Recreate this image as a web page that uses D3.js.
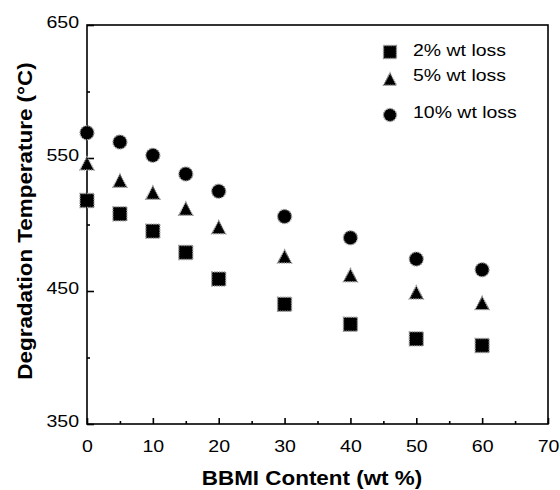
<!DOCTYPE html>
<html>
<head>
<meta charset="utf-8">
<script src="https://cdn.jsdelivr.net/npm/d3@7"></script>
<style>
  body { margin: 0; background: #fff; }
  text { font-family: "Liberation Sans", Arial, Helvetica, sans-serif; fill: #000; }
  .tick text { font-size: 17px; }
  .title { font-size: 19.5px; font-weight: bold; }
  .legend text { font-size: 16.5px; }
  .domain, .tick line { stroke: #000; stroke-width: 1.6; }
  .mark { fill: #000; stroke: #9a9a9a; stroke-width: 1.4; stroke-dasharray: 1.4,1; }
</style>
</head>
<body>
<script>
// BBMI content (wt %)
var content = [0, 5, 10, 15, 20, 30, 40, 50, 60];
// degradation temperatures (°C)
var loss2  = [518, 508, 495, 479, 459, 440, 425, 414, 409];
var loss5  = [546, 533, 524, 512, 498, 476, 462, 449, 441];
var loss10 = [569, 562, 552, 538, 525, 506, 490, 474, 466];

var seriesNames = ["2% wt loss", "5% wt loss", "10% wt loss"];
var seriesShapes = ["square", "triangle", "circle"];
var xTicks = [0, 10, 20, 30, 40, 50, 60, 70];
var yTicks = [350, 450, 550, 650];

var margin = {top: 25, right: 12, bottom: 66, left: 87},
    width = 560 - margin.left - margin.right,
    height = 490 - margin.top - margin.bottom;

var stretch = 1.15;

var x = d3.scaleLinear().domain([0, 70]).range([0, width]);
var y = d3.scaleLinear().domain([350, 650]).range([height, 0]);

var svg = d3.select("body").append("svg")
    .attr("width", 560)
    .attr("height", 490)
  .append("g")
    .attr("transform", "translate(" + margin.left + "," + margin.top + ")");

// box
svg.append("rect")
    .attr("width", width)
    .attr("height", height)
    .attr("fill", "none")
    .attr("stroke", "#000")
    .attr("stroke-width", 1.6);

// minor ticks (inward)
svg.append("g")
    .attr("transform", "translate(0," + height + ")")
    .call(d3.axisBottom(x).tickValues(d3.range(5, 70, 10)).tickSize(-3).tickFormat(""))
    .call(function(g) { g.select(".domain").remove(); });
svg.append("g")
    .call(d3.axisLeft(y).tickValues([400, 500, 600]).tickSize(-3).tickFormat(""))
    .call(function(g) { g.select(".domain").remove(); });

// X axis
svg.append("g")
    .attr("transform", "translate(0," + height + ")")
    .call(d3.axisBottom(x).tickValues(xTicks).tickSize(-6).tickFormat(d3.format("d")))
    .call(function(g) {
      g.select(".domain").remove();
      g.selectAll(".tick text")
        .attr("y", null).attr("dy", null)
        .attr("transform", "translate(0,28) scale(" + stretch + ",1)");
    });

// Y axis
svg.append("g")
    .call(d3.axisLeft(y).tickValues(yTicks).tickSize(-7).tickFormat(d3.format("d")))
    .call(function(g) {
      g.select(".domain").remove();
      g.selectAll(".tick text")
        .attr("x", null).attr("dy", null)
        .attr("transform", "translate(-8,2) scale(" + stretch + ",1)");
    });

// marker shapes
function markerPath(shape, s) {
  var h = s / 2;
  if (shape === "square") return "M" + (-h) + "," + (-h) + "H" + h + "V" + h + "H" + (-h) + "Z";
  if (shape === "triangle") return "M0," + (-h * 0.95) + "L" + h + "," + (h * 0.95) + "H" + (-h) + "Z";
  return d3.symbol(d3.symbolCircle, Math.PI * h * h)();
}

var allSeries = [loss2, loss5, loss10];
allSeries.forEach(function(vals, i) {
  svg.append("g").selectAll("path")
      .data(content)
    .enter().append("path")
      .attr("class", "mark")
      .attr("d", markerPath(seriesShapes[i], 14))
      .attr("transform", function(d, j) { return "translate(" + x(d) + "," + y(vals[j]) + ")"; });
});

// legend
var legendY = [52, 79, 115];
var legendBase = [56, 81, 118];
var legend = svg.append("g").attr("class", "legend");
seriesNames.forEach(function(name, i) {
  legend.append("path")
      .attr("class", "mark")
      .attr("d", markerPath(seriesShapes[i], 13))
      .attr("transform", "translate(" + (390 - margin.left) + "," + (legendY[i] - margin.top) + ")");
  legend.append("text")
      .attr("transform", "translate(" + (413 - margin.left) + "," + (legendBase[i] - margin.top) + ") scale(1.18,1)")
      .text(name);
});

// axis titles
svg.append("text")
    .attr("class", "title")
    .attr("text-anchor", "middle")
    .attr("transform", "translate(" + (312 - margin.left) + "," + (485 - margin.top) + ") scale(" + stretch + ",1)")
    .text("BBMI Content (wt %)");

svg.append("text")
    .attr("class", "title")
    .attr("text-anchor", "middle")
    .attr("transform", "translate(" + (32 - margin.left) + "," + (221 - margin.top) + ") rotate(-90) scale(" + stretch + ",1)")
    .text("Degradation Temperature (°C)");
</script>
</body>
</html>
